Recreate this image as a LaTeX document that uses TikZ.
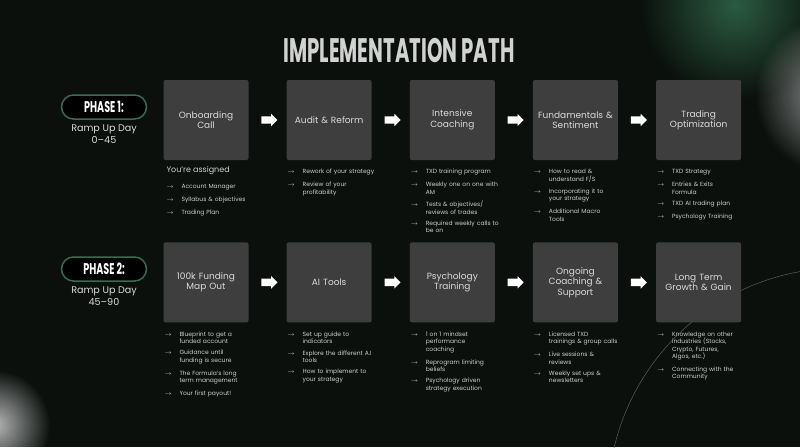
\documentclass[tikz,border=0pt]{standalone}
\usepackage{fontspec}
\setmainfont{Poppins}
\usepackage{graphicx}
\usetikzlibrary{positioning, shapes.arrows, fadings}

\definecolor{bgdark}{HTML}{0B100D}
\definecolor{boxgray}{HTML}{3E3E3E}
\definecolor{labelgray}{HTML}{DADADA}
\definecolor{listgray}{HTML}{CFCFCF}
\definecolor{titlegray}{HTML}{D2D2D2}
\definecolor{pillgreen}{HTML}{3B6B53}
\definecolor{glowgreen}{HTML}{2F6446}
\definecolor{arcgray}{HTML}{5C5C5C}

\tikzfading[name=glowfade, inner color=transparent!0, outer color=transparent!100]

\newcommand{\pitem}[1]{\noindent\makebox[15pt][l]{$\rightarrow$}\parbox[t]{90pt}{#1}\par}

\begin{document}
\begin{tikzpicture}[
    x=1pt, y=-1pt,
    node distance=37.75pt,
    stepbox/.style={rectangle, fill=boxgray, rounded corners=2pt, minimum width=85pt, minimum height=80pt, inner sep=2pt, text width=81pt, align=center, text=labelgray, font=\fontsize{9}{10.5}\selectfont},
    itemlist/.style={inner sep=0pt, text width=105pt, align=left, text=listgray, font=\fontsize{6}{7.5}\selectfont, execute at begin node=\setlength{\parskip}{5.5pt}},
    pill/.style={rectangle, rounded corners=12pt, draw=pillgreen, line width=1.5pt, fill=black, minimum width=85pt, minimum height=24pt, inner sep=0pt, text=white, font=\bfseries\fontsize{15.5}{16}\selectfont},
    rampnote/.style={inner sep=0pt, align=center, text=labelgray, font=\fontsize{9.6}{12}\selectfont},
    blockarrow/.style={single arrow, fill=white, inner sep=3.5pt, minimum height=16pt, single arrow head extend=2.5pt, single arrow head indent=0pt}
]
\useasboundingbox (0,0) rectangle (800,447);

% Background and glows
\fill[bgdark] (0,0) rectangle (800,447);
\begin{scope}
\clip (0,0) rectangle (800,447);
\fill[glowgreen, opacity=0.9, path fading=glowfade] (735,5) circle (95pt);
\fill[white, opacity=0.6, path fading=glowfade] (835,95) circle (80pt);
\fill[white, opacity=0.7, path fading=glowfade] (-5,425) circle (55pt);
\draw[arcgray, line width=0.5pt] (841,501) circle (233pt);
\end{scope}

% Title
\node[font=\bfseries\fontsize{34}{34}\selectfont, text=titlegray] (title) at (399,51) {\scalebox{0.58}[1]{IMPLEMENTATION PATH}};

% Phases
\node[pill] (phase1) at (104,107) {\scalebox{0.62}[1]{PHASE 1:}};
\node[rampnote, below=5pt of phase1] (ramp1) {Ramp Up Day\\0--45};
\node[pill] (phase2) at (104,269) {\scalebox{0.62}[1]{PHASE 2:}};
\node[rampnote, below=5pt of phase2] (ramp2) {Ramp Up Day\\45--90};

% Steps, phase 1
\node[stepbox] (onboard) at (206,120) {Onboarding\\Call};
\node[stepbox, right=of onboard] (audit) {Audit \& Reform};
\node[stepbox, right=of audit] (intensive) {Intensive\\Coaching};
\node[stepbox, right=of intensive] (fundament) {Fundamentals \&\\Sentiment};
\node[stepbox, right=of fundament] (tradeopt) {Trading\\Optimization};

% Steps, phase 2
\node[stepbox, below=82pt of onboard] (funding) {100k Funding\\Map Out};
\node[stepbox, right=of funding] (aitools) {AI Tools};
\node[stepbox, right=of aitools] (psych) {Psychology\\Training};
\node[stepbox, right=of psych] (ongoing) {Ongoing\\Coaching \&\\Support};
\node[stepbox, right=of ongoing] (longterm) {Long Term\\Growth \& Gain};

% Arrows
\foreach \a/\b in {onboard/audit, audit/intensive, intensive/fundament, fundament/tradeopt,
                   funding/aitools, aitools/psych, psych/ongoing, ongoing/longterm}
  \path (\a) -- node[blockarrow] {} (\b);

% Lists, phase 1
\node[itemlist, below right=6pt and 3pt of onboard.south west] (onboardlist) {%
  {\fontsize{8}{9}\selectfont You’re assigned\par}\vspace{3pt}
  \pitem{Account Manager}
  \pitem{Syllabus \& objectives}
  \pitem{Trading Plan}};
\node[itemlist, below right=9pt and 1pt of audit.south west] (auditlist) {%
  \pitem{Rework of your strategy}
  \pitem{Review of your\\profitability}};
\node[itemlist, below right=9pt and 1pt of intensive.south west] (intensivelist) {%
  \pitem{TXD training program}
  \pitem{Weekly one on one with\\AM}
  \pitem{Tests \& objectives/\\reviews of trades}
  \pitem{Required weekly calls to\\be on}};
\node[itemlist, below right=9pt and 1pt of fundament.south west] (fundamentlist) {%
  \pitem{How to read \&\\understand F/S}
  \pitem{Incorporating it to\\your strategy}
  \pitem{Additional Macro\\Tools}};
\node[itemlist, below right=9pt and 1pt of tradeopt.south west] (tradeoptlist) {%
  \pitem{TXD Strategy}
  \pitem{Entries \& Exits\\Formula}
  \pitem{TXD AI trading plan}
  \pitem{Psychology Training}};

% Lists, phase 2
\node[itemlist, below right=9pt and 1pt of funding.south west] (fundinglist) {%
  \pitem{Blueprint to get a\\funded account}
  \pitem{Guidance until\\funding is secure}
  \pitem{The Formula’s long\\term management}
  \pitem{Your first payout!}};
\node[itemlist, below right=9pt and 1pt of aitools.south west] (aitoolslist) {%
  \pitem{Set up guide to\\indicators}
  \pitem{Explore the different A.I\\tools}
  \pitem{How to implement to\\your strategy}};
\node[itemlist, below right=9pt and 1pt of psych.south west] (psychlist) {%
  \pitem{1 on 1 mindset\\performance\\coaching}
  \pitem{Reprogram limiting\\beliefs}
  \pitem{Psychology driven\\strategy execution}};
\node[itemlist, below right=9pt and 1pt of ongoing.south west] (ongoinglist) {%
  \pitem{Licensed TXD\\trainings \& group calls}
  \pitem{Live sessions \&\\reviews}
  \pitem{Weekly set ups \&\\newsletters}};
\node[itemlist, below right=9pt and 1pt of longterm.south west] (longtermlist) {%
  \pitem{Knowledge on other\\industries (Stocks,\\Crypto, Futures,\\Algos, etc.)}
  \pitem{Connecting with the\\Community}};

\end{tikzpicture}
\end{document}
